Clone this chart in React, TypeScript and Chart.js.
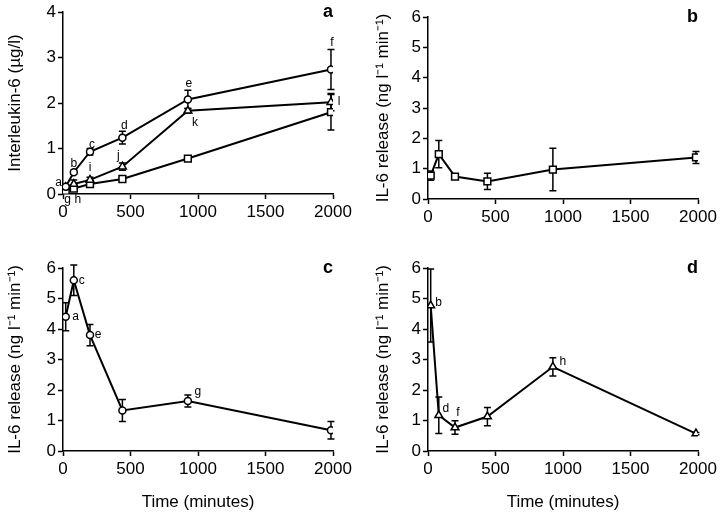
import React, { useEffect, useRef } from 'react';
import { Chart, registerables } from 'chart.js';

Chart.register(...registerables);

// ---------- data ----------
const TIMES = [20, 80, 200, 440, 925, 1985];
const X_MIN = 0;
const X_MAX = 2000;
const X_STEP = 500;

// panel a: Interleukin-6 concentration
const A_CIRCLE = [0.16, 0.48, 0.93, 1.24, 2.08, 2.74];
const A_CIRCLE_ERR = [0.03, 0.04, 0.07, 0.14, 0.2, 0.44];
const A_CIRCLE_LABELS = ['a', 'b', 'c', 'd', 'e', 'f'];
const A_TRIANGLE = [0.15, 0.22, 0.31, 0.6, 1.83, 2.02];
const A_TRIANGLE_ERR = [0.03, 0.09, 0.06, 0.08, 0.05, 0.19];
const A_TRIANGLE_LABELS = ['g', 'h', 'i', 'j', 'k', 'l'];
const A_SQUARE = [0.07, 0.12, 0.22, 0.33, 0.78, 1.8];
const A_SQUARE_ERR = [0.02, 0.03, 0.03, 0.03, 0.03, 0.39];
const A_Y_MAX = 4;

// panel b: IL-6 release (squares)
const B_SQUARE = [0.77, 1.48, 0.74, 0.58, 0.97, 1.37];
const B_SQUARE_ERR = [0.15, 0.45, 0.05, 0.27, 0.7, 0.2];

// panel c: IL-6 release (circles)
const C_CIRCLE = [4.4, 5.6, 3.8, 1.33, 1.64, 0.68];
const C_CIRCLE_ERR = [0.46, 0.5, 0.35, 0.36, 0.2, 0.29];
const C_CIRCLE_LABELS = ['a', 'c', 'e', '', 'g', ''];

// panel d: IL-6 release (triangles)
const D_TRIANGLE = [4.77, 1.17, 0.77, 1.13, 2.76, 0.57];
const D_TRIANGLE_ERR = [1.2, 0.6, 0.22, 0.3, 0.3, 0.04];
const D_TRIANGLE_LABELS = ['b', 'd', 'f', '', 'h', ''];

const RELEASE_Y_MAX = 6;

const Y_TITLE_A = 'Interleukin-6 (µg/l)';
const Y_TITLE_RELEASE = 'IL-6 release (ng l⁻¹ min⁻¹)';
const X_TITLE = 'Time (minutes)';
const PANEL_LETTERS = ['a', 'b', 'c', 'd'];

// ---------- styles ----------
const FONT = '"Liberation Sans", Arial, Helvetica, sans-serif';
const INK = '#000';

const A_CIRCLE_OFFSETS = [[-7, -4], [0, -8], [2, -7], [2, -12], [1, -16], [1, -27]];
const A_TRIANGLE_OFFSETS = [[2, 13], [4, 16], [0, -12], [-4, -11], [7, 12], [8, -1]];
const C_OFFSETS = [[10, 0], [8, 0], [8, 0], [0, 0], [10, -9], [0, 0]];
const D_OFFSETS = [[8, -3], [7, -7], [3, -15], [0, 0], [10, -5], [0, 0]];

type SeriesDef = {
  values: number[];
  errors: number[];
  pointStyle: 'circle' | 'triangle' | 'rect';
  radius: number;
  labels?: string[];
  offsets?: number[][];
};

type PanelDef = {
  left: number;
  top: number;
  width: number;
  height: number;
  padTop: number;
  padRight: number;
  yWidth: number;
  xHeight: number;
  yMax: number;
  yTitle: string;
  yTitleFont: number;
  yTitlePad: number;
  showXTitle: boolean;
  letter: string;
  series: SeriesDef[];
};

const errorBarPlugin = {
  id: 'errorBars',
  beforeDatasetsDraw(chart: any) {
    const ctx = chart.ctx;
    const yScale = chart.scales.y;
    ctx.save();
    ctx.strokeStyle = INK;
    ctx.lineWidth = 1.5;
    chart.data.datasets.forEach((ds: any, di: number) => {
      const meta = chart.getDatasetMeta(di);
      (ds.errors || []).forEach((err: number, i: number) => {
        const el = meta.data[i];
        if (!el || !err) return;
        const v = ds.data[i].y;
        const x = el.x;
        const yTop = yScale.getPixelForValue(v + err);
        const yBot = yScale.getPixelForValue(Math.max(v - err, 0));
        const cap = 3.5;
        ctx.beginPath();
        ctx.moveTo(x, yTop);
        ctx.lineTo(x, yBot);
        ctx.moveTo(x - cap, yTop);
        ctx.lineTo(x + cap, yTop);
        ctx.moveTo(x - cap, yBot);
        ctx.lineTo(x + cap, yBot);
        ctx.stroke();
      });
    });
    ctx.restore();
  },
};

const annotationPlugin = {
  id: 'pointLetters',
  afterDatasetsDraw(chart: any) {
    const ctx = chart.ctx;
    ctx.save();
    ctx.fillStyle = INK;
    ctx.font = `12px ${FONT}`;
    ctx.textAlign = 'center';
    ctx.textBaseline = 'middle';
    chart.data.datasets.forEach((ds: any, di: number) => {
      const meta = chart.getDatasetMeta(di);
      (ds.pointLetters || []).forEach((t: string, i: number) => {
        if (!t) return;
        const el = meta.data[i];
        const off = (ds.letterOffsets && ds.letterOffsets[i]) || [0, 0];
        ctx.fillText(t, el.x + off[0], el.y + off[1]);
      });
    });
    const letter = chart.options.plugins.panelLetter?.text;
    if (letter) {
      const a = chart.chartArea;
      ctx.font = `bold 18px ${FONT}`;
      ctx.textAlign = 'right';
      ctx.textBaseline = 'middle';
      ctx.fillText(letter, a.right, a.top);
    }
    ctx.restore();
  },
};

const PANELS: PanelDef[] = [
  {
    left: 0, top: 0, width: 360, height: 230,
    padTop: 10, padRight: 27, yWidth: 63, xHeight: 36,
    yMax: A_Y_MAX, yTitle: Y_TITLE_A, yTitleFont: 17, yTitlePad: 5,
    showXTitle: false, letter: PANEL_LETTERS[0],
    series: [
      { values: A_CIRCLE, errors: A_CIRCLE_ERR, pointStyle: 'circle', radius: 3.5, labels: A_CIRCLE_LABELS, offsets: A_CIRCLE_OFFSETS },
      { values: A_TRIANGLE, errors: A_TRIANGLE_ERR, pointStyle: 'triangle', radius: 4.5, labels: A_TRIANGLE_LABELS, offsets: A_TRIANGLE_OFFSETS },
      { values: A_SQUARE, errors: A_SQUARE_ERR, pointStyle: 'rect', radius: 4.8 },
    ],
  },
  {
    left: 360, top: 0, width: 360, height: 230,
    padTop: 17, padRight: 22, yWidth: 68, xHeight: 31,
    yMax: RELEASE_Y_MAX, yTitle: Y_TITLE_RELEASE, yTitleFont: 17, yTitlePad: 13,
    showXTitle: false, letter: PANEL_LETTERS[1],
    series: [
      { values: B_SQUARE, errors: B_SQUARE_ERR, pointStyle: 'rect', radius: 4.8 },
    ],
  },
  {
    left: 0, top: 230, width: 360, height: 287,
    padTop: 38, padRight: 27, yWidth: 63, xHeight: 66,
    yMax: RELEASE_Y_MAX, yTitle: Y_TITLE_RELEASE, yTitleFont: 17, yTitlePad: 5,
    showXTitle: true, letter: PANEL_LETTERS[2],
    series: [
      { values: C_CIRCLE, errors: C_CIRCLE_ERR, pointStyle: 'circle', radius: 3.5, labels: C_CIRCLE_LABELS, offsets: C_OFFSETS },
    ],
  },
  {
    left: 360, top: 230, width: 360, height: 287,
    padTop: 38, padRight: 22, yWidth: 68, xHeight: 66,
    yMax: RELEASE_Y_MAX, yTitle: Y_TITLE_RELEASE, yTitleFont: 17, yTitlePad: 13,
    showXTitle: true, letter: PANEL_LETTERS[3],
    series: [
      { values: D_TRIANGLE, errors: D_TRIANGLE_ERR, pointStyle: 'triangle', radius: 4.5, labels: D_TRIANGLE_LABELS, offsets: D_OFFSETS },
    ],
  },
];

const plainTick = (v: any) => String(v);

function Panel({ def }: { def: PanelDef }) {
  const ref = useRef<HTMLCanvasElement>(null);
  useEffect(() => {
    if (!ref.current) return;
    const axisCommon = {
      grid: { display: true, drawOnChartArea: false, drawTicks: true, tickLength: 5, tickColor: INK, tickWidth: 1.5 },
      border: { display: true, color: INK, width: 1.5 },
    };
    const chart = new Chart(ref.current, {
      type: 'line',
      data: {
        datasets: def.series.map((s) => ({
          data: TIMES.map((t, i) => ({ x: t, y: s.values[i] })),
          errors: s.errors,
          pointLetters: s.labels,
          letterOffsets: s.offsets,
          borderColor: INK,
          borderWidth: 2,
          pointStyle: s.pointStyle,
          pointRadius: s.radius,
          pointBackgroundColor: '#fff',
          pointBorderColor: INK,
          pointBorderWidth: 1.5,
          tension: 0,
          fill: false,
        })) as any,
      },
      options: {
        responsive: false,
        animation: false,
        events: [],
        layout: { padding: { left: 0, top: def.padTop, right: def.padRight, bottom: 0 } },
        plugins: {
          legend: { display: false },
          tooltip: { enabled: false },
          panelLetter: { text: def.letter },
        } as any,
        scales: {
          x: {
            type: 'linear',
            min: X_MIN,
            max: X_MAX,
            ...axisCommon,
            ticks: { stepSize: X_STEP, color: INK, font: { family: FONT, size: 17 }, padding: 3, maxRotation: 0, autoSkip: false, callback: plainTick },
            title: {
              display: def.showXTitle,
              text: X_TITLE,
              color: INK,
              font: { family: FONT, size: 17 },
              padding: { top: 0, bottom: 4 },
            },
            afterFit: (s: any) => { s.height = def.xHeight; },
          },
          y: {
            type: 'linear',
            min: 0,
            max: def.yMax,
            ...axisCommon,
            ticks: { stepSize: 1, color: INK, font: { family: FONT, size: 17 }, padding: 2, callback: plainTick },
            title: {
              display: true,
              text: def.yTitle,
              color: INK,
              font: { family: FONT, size: def.yTitleFont },
              padding: { top: def.yTitlePad, bottom: 0 },
            },
            afterFit: (s: any) => { s.width = def.yWidth; },
          },
        } as any,
      },
      plugins: [errorBarPlugin, annotationPlugin],
    });
    return () => chart.destroy();
  }, [def]);
  return (
    <canvas
      ref={ref}
      width={def.width}
      height={def.height}
      style={{ position: 'absolute', left: def.left, top: def.top, width: def.width, height: def.height, display: 'block' }}
    />
  );
}

export default function App() {
  return (
    <div style={{ position: 'absolute', left: 0, top: 0, width: 720, height: 517, background: '#fff' }}>
      {PANELS.map((p, i) => (
        <Panel key={i} def={p} />
      ))}
    </div>
  );
}
